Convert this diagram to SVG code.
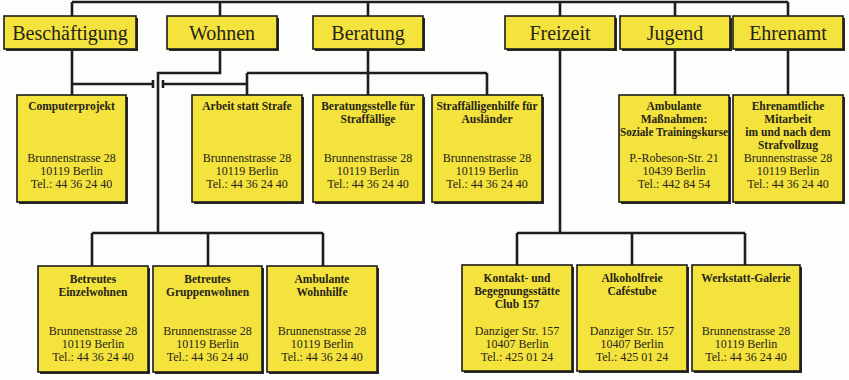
<svg xmlns="http://www.w3.org/2000/svg" width="849" height="380" viewBox="0 0 849 380">
<style>
  .bg { fill:#fdfdfc; }
  .box { fill:#F4E33D; stroke:#1b1b1b; stroke-width:1.6; }
  .sh { fill:#2a2a2a; }
  .conn { stroke:#1e1e1e; stroke-width:2.6; fill:none; }
  text { font-family:"Liberation Serif","Times New Roman",serif; text-anchor:middle; fill:#262418; }
  .h { font-size:20px; }
  .t { font-size:11.5px; font-weight:bold; }
  .a { font-size:12px; }
</style>
<rect class="bg" x="0" y="0" width="849" height="380"/>

<g id="connectors">
  <path class="conn" d="M72,2 H788 M72,2 V16 M220,2 V16 M368,2 V16 M560,2 V16 M675,2 V16 M788,2 V16"/>
  <path class="conn" d="M72,49 V95 M72,84 H153 M153,80 V88 M163,80 V88 M163,84 H247"/>
  <path class="conn" d="M220,49 V73 H158 V233 M92,233 H323 M92,233 V266 M208,233 V266 M323,233 V266"/>
  <path class="conn" d="M368,49 V95 M247,73 H487 M247,73 V95 M487,73 V95"/>
  <path class="conn" d="M560,49 V233 M517,233 H745 M517,233 V265 M632,233 V265 M745,233 V265"/>
  <path class="conn" d="M675,49 V95 M788,49 V95"/>
</g>

<g id="beschaeftigung">
  <rect class="sh" x="6" y="18" width="132" height="33"/>
  <rect class="box" x="4" y="16" width="132" height="33"/>
  <text class="h" x="70" y="40">Beschäftigung</text>
</g>
<g id="wohnen">
  <rect class="sh" x="169" y="18" width="110" height="33"/>
  <rect class="box" x="167" y="16" width="110" height="33"/>
  <text class="h" x="222" y="40">Wohnen</text>
</g>
<g id="beratung">
  <rect class="sh" x="315" y="18" width="110" height="33"/>
  <rect class="box" x="313" y="16" width="110" height="33"/>
  <text class="h" x="368" y="40">Beratung</text>
</g>
<g id="freizeit">
  <rect class="sh" x="507" y="18" width="110" height="33"/>
  <rect class="box" x="505" y="16" width="110" height="33"/>
  <text class="h" x="560" y="40">Freizeit</text>
</g>
<g id="jugend">
  <rect class="sh" x="622" y="18" width="110" height="33"/>
  <rect class="box" x="620" y="16" width="110" height="33"/>
  <text class="h" x="675" y="40">Jugend</text>
</g>
<g id="ehrenamt">
  <rect class="sh" x="735" y="18" width="110" height="33"/>
  <rect class="box" x="733" y="16" width="110" height="33"/>
  <text class="h" x="788" y="40">Ehrenamt</text>
</g>

<g id="computerprojekt">
  <rect class="sh" x="19" y="97" width="109" height="107"/>
  <rect class="box" x="17" y="95" width="109" height="107"/>
  <text class="t" x="71.5" y="110">Computerprojekt</text>
  <text class="a" x="71.5" y="162">Brunnenstrasse 28</text>
  <text class="a" x="71.5" y="175">10119 Berlin</text>
  <text class="a" x="71.5" y="188">Tel.: 44 36 24 40</text>
</g>
<g id="arbeit-statt-strafe">
  <rect class="sh" x="194" y="97" width="110" height="107"/>
  <rect class="box" x="192" y="95" width="110" height="107"/>
  <text class="t" x="247" y="110">Arbeit statt Strafe</text>
  <text class="a" x="247" y="162">Brunnenstrasse 28</text>
  <text class="a" x="247" y="175">10119 Berlin</text>
  <text class="a" x="247" y="188">Tel.: 44 36 24 40</text>
</g>
<g id="beratungsstelle">
  <rect class="sh" x="315" y="97" width="110" height="107"/>
  <rect class="box" x="313" y="95" width="110" height="107"/>
  <text class="t" x="368" y="110">Beratungsstelle für</text>
  <text class="t" x="368" y="123">Straffällige</text>
  <text class="a" x="368" y="162">Brunnenstrasse 28</text>
  <text class="a" x="368" y="175">10119 Berlin</text>
  <text class="a" x="368" y="188">Tel.: 44 36 24 40</text>
</g>
<g id="straffaelligenhilfe">
  <rect class="sh" x="434" y="97" width="110" height="107"/>
  <rect class="box" x="432" y="95" width="110" height="107"/>
  <text class="t" x="487" y="110">Straffälligenhilfe für</text>
  <text class="t" x="487" y="123">Ausländer</text>
  <text class="a" x="487" y="162">Brunnenstrasse 28</text>
  <text class="a" x="487" y="175">10119 Berlin</text>
  <text class="a" x="487" y="188">Tel.: 44 36 24 40</text>
</g>
<g id="ambulante-massnahmen">
  <rect class="sh" x="621" y="97" width="110" height="107"/>
  <rect class="box" x="619" y="95" width="110" height="107"/>
  <text class="t" x="674" y="110">Ambulante</text>
  <text class="t" x="674" y="123">Maßnahmen:</text>
  <text class="t" x="674" y="136" textLength="108" lengthAdjust="spacingAndGlyphs">Soziale Trainingskurse</text>
  <text class="a" x="674" y="162">P.-Robeson-Str. 21</text>
  <text class="a" x="674" y="175">10439 Berlin</text>
  <text class="a" x="674" y="188">Tel.: 442 84 54</text>
</g>
<g id="ehrenamtliche-mitarbeit">
  <rect class="sh" x="735" y="97" width="110" height="107"/>
  <rect class="box" x="733" y="95" width="110" height="107"/>
  <text class="t" x="788" y="110">Ehrenamtliche</text>
  <text class="t" x="788" y="123">Mitarbeit</text>
  <text class="t" x="788" y="136">im und nach dem</text>
  <text class="t" x="788" y="149">Strafvollzug</text>
  <text class="a" x="788" y="162">Brunnenstrasse 28</text>
  <text class="a" x="788" y="175">10119 Berlin</text>
  <text class="a" x="788" y="188">Tel.: 44 36 24 40</text>
</g>

<g id="einzelwohnen">
  <rect class="sh" x="40" y="268" width="110" height="106"/>
  <rect class="box" x="38" y="266" width="110" height="106"/>
  <text class="t" x="93" y="283">Betreutes</text>
  <text class="t" x="93" y="296">Einzelwohnen</text>
  <text class="a" x="93" y="335">Brunnenstrasse 28</text>
  <text class="a" x="93" y="348">10119 Berlin</text>
  <text class="a" x="93" y="361">Tel.: 44 36 24 40</text>
</g>
<g id="gruppenwohnen">
  <rect class="sh" x="155" y="268" width="109" height="106"/>
  <rect class="box" x="153" y="266" width="109" height="106"/>
  <text class="t" x="207.5" y="283">Betreutes</text>
  <text class="t" x="207.5" y="296">Gruppenwohnen</text>
  <text class="a" x="207.5" y="335">Brunnenstrasse 28</text>
  <text class="a" x="207.5" y="348">10119 Berlin</text>
  <text class="a" x="207.5" y="361">Tel.: 44 36 24 40</text>
</g>
<g id="wohnhilfe">
  <rect class="sh" x="269" y="268" width="110" height="106"/>
  <rect class="box" x="267" y="266" width="110" height="106"/>
  <text class="t" x="322" y="283">Ambulante</text>
  <text class="t" x="322" y="296">Wohnhilfe</text>
  <text class="a" x="322" y="335">Brunnenstrasse 28</text>
  <text class="a" x="322" y="348">10119 Berlin</text>
  <text class="a" x="322" y="361">Tel.: 44 36 24 40</text>
</g>
<g id="club157">
  <rect class="sh" x="464" y="267" width="110" height="106"/>
  <rect class="box" x="462" y="265" width="110" height="106"/>
  <text class="t" x="517" y="282">Kontakt- und</text>
  <text class="t" x="517" y="295">Begegnungsstätte</text>
  <text class="t" x="517" y="308">Club 157</text>
  <text class="a" x="517" y="335">Danziger Str. 157</text>
  <text class="a" x="517" y="348">10407 Berlin</text>
  <text class="a" x="517" y="361">Tel.: 425 01 24</text>
</g>
<g id="cafestube">
  <rect class="sh" x="579" y="267" width="110" height="106"/>
  <rect class="box" x="577" y="265" width="110" height="106"/>
  <text class="t" x="632" y="282">Alkoholfreie</text>
  <text class="t" x="632" y="295">Caféstube</text>
  <text class="a" x="632" y="335">Danziger Str. 157</text>
  <text class="a" x="632" y="348">10407 Berlin</text>
  <text class="a" x="632" y="361">Tel.: 425 01 24</text>
</g>
<g id="werkstatt-galerie">
  <rect class="sh" x="694" y="267" width="108" height="106"/>
  <rect class="box" x="692" y="265" width="108" height="106"/>
  <text class="t" x="746" y="282">Werkstatt-Galerie</text>
  <text class="a" x="746" y="335">Brunnenstrasse 28</text>
  <text class="a" x="746" y="348">10119 Berlin</text>
  <text class="a" x="746" y="361">Tel.: 44 36 24 40</text>
</g>
</svg>
